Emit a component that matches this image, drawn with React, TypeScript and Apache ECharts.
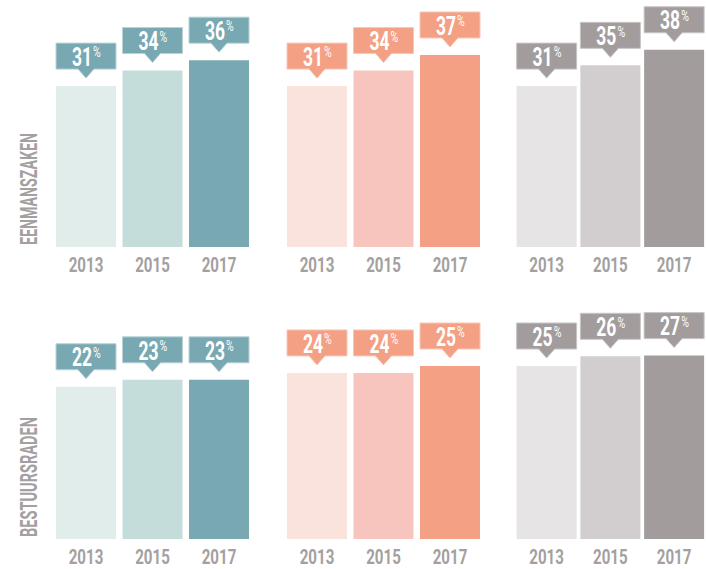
import { useEffect, useRef } from "react";
import * as echarts from "echarts";

const years = ["2013", "2015", "2017"];
const rowTitles = ["EENMANSZAKEN", "BESTUURSRADEN"];

const tealTop = [31, 34, 36];
const salmonTop = [31, 34, 37];
const greyTop = [31, 35, 38];
const tealBottom = [22, 23, 23];
const salmonBottom = [24, 24, 25];
const greyBottom = [25, 26.4, 26.5];

const tealColors = ["#e0edeb", "#c5ddda", "#78a8b1"];
const salmonColors = ["#fbe3dd", "#f7c5be", "#f3a084"];
const greyColors = ["#e6e4e5", "#d2cecf", "#a29c9d"];

const FONT = 'Roboto, "Liberation Sans", sans-serif';
const YEAR_COLOR = "#a49fa0";

const rows = [
  { data: [tealTop, salmonTop, greyTop], max: 40, top: 39.4 },
  { data: [tealBottom, salmonBottom, greyBottom], max: 30, top: 331.4 },
];
const palettes = [tealColors, salmonColors, greyColors];
const strokes = ["#b9d3d7", "#f8c8b7", "#c9c4c5"];
const panelLefts = [52.75, 283.75, 514.75];
const PANEL_W = 199.5;
const PANEL_H = 207.6;

function measure(text: string, font: string): number {
  const c = document.createElement("canvas").getContext("2d");
  if (!c) return text.length * 10;
  c.font = font;
  return c.measureText(text).width;
}

export default function App() {
  const ref = useRef<HTMLDivElement>(null);
  useEffect(() => {
    if (!ref.current) return;
    const chart = echarts.init(ref.current, null, { renderer: "svg" });
    const grid: any[] = [];
    const xAxis: any[] = [];
    const yAxis: any[] = [];
    const series: any[] = [];
    let gi = 0;
    rows.forEach((row) => {
      row.data.forEach((vals, pi) => {
        const colors = palettes[pi];
        const boxColor = colors[2];
        const boxStroke = strokes[pi];
        grid.push({ left: panelLefts[pi], top: row.top, width: PANEL_W, height: PANEL_H });
        xAxis.push({
          type: "category",
          gridIndex: gi,
          data: years,
          axisLine: { show: false },
          axisTick: { show: false },
          axisLabel: { show: false },
        });
        yAxis.push({ type: "value", gridIndex: gi, min: 0, max: row.max, show: false, splitLine: { show: false } });
        series.push({
          type: "bar",
          xAxisIndex: gi,
          yAxisIndex: gi,
          barWidth: 60,
          data: vals.map((v, i) => ({ value: v, itemStyle: { color: colors[i] } })),
        });
        series.push({
          type: "custom",
          xAxisIndex: gi,
          yAxisIndex: gi,
          clip: false,
          data: vals.map((v, i) => [i, v]),
          renderItem: (_params: any, api: any) => {
            const idx = api.value(0);
            const v = api.value(1);
            const p = api.coord([idx, v]);
            const base = api.coord([idx, 0]);
            const cx = p[0];
            const top = p[1];
            const bb = top - 17;
            const bt = top - 43;
            return {
              type: "group",
              children: [
                {
                  type: "polygon",
                  shape: {
                    points: [
                      [cx - 30, bt],
                      [cx + 30, bt],
                      [cx + 30, bb],
                      [cx + 8, bb],
                      [cx, top - 8],
                      [cx - 8, bb],
                      [cx - 30, bb],
                    ],
                  },
                  style: { fill: boxColor, stroke: boxStroke, lineWidth: 1 },
                },
                {
                  type: "text",
                  x: cx + 6,
                  y: top - 29,
                  scaleX: 0.7,
                  style: {
                    text: String(Math.round(v)),
                    fill: "#ffffff",
                    font: `bold 25px ${FONT}`,
                    lineHeight: 22,
                    align: "right",
                    verticalAlign: "middle",
                  },
                },
                {
                  type: "text",
                  x: cx + 7,
                  y: top - 41,
                  scaleX: 0.7,
                  style: {
                    text: "%",
                    fill: "#ffffff",
                    font: `15px ${FONT}`,
                    lineHeight: 14,
                    align: "left",
                    verticalAlign: "top",
                  },
                },
                {
                  type: "text",
                  x: cx,
                  y: base[1] + 17.5,
                  scaleX: 0.72,
                  style: {
                    text: years[idx],
                    fill: YEAR_COLOR,
                    font: `bold 21px ${FONT}`,
                    lineHeight: 17,
                    align: "center",
                    verticalAlign: "middle",
                  },
                },
              ],
            };
          },
        });
        gi++;
      });
    });

    const titleFont = `bold 23px ${FONT}`;
    const titleLens = [112, 120];
    const titleY = [189, 477];

    chart.setOption({
      animation: false,
      backgroundColor: "#ffffff",
      grid,
      xAxis,
      yAxis,
      series,
      graphic: rowTitles.map((t, i) => ({
        type: "text",
        x: 29,
        y: titleY[i],
        rotation: Math.PI / 2,
        scaleX: titleLens[i] / measure(t, titleFont),
        style: {
          text: t,
          fill: YEAR_COLOR,
          font: titleFont,
          lineHeight: 18,
          align: "center",
          verticalAlign: "middle",
        },
      })),
    });
    return () => chart.dispose();
  }, []);
  return (
    <div
      ref={ref}
      style={{ position: "absolute", left: 0, top: 0, width: 706, height: 569, background: "#fff" }}
    />
  );
}
